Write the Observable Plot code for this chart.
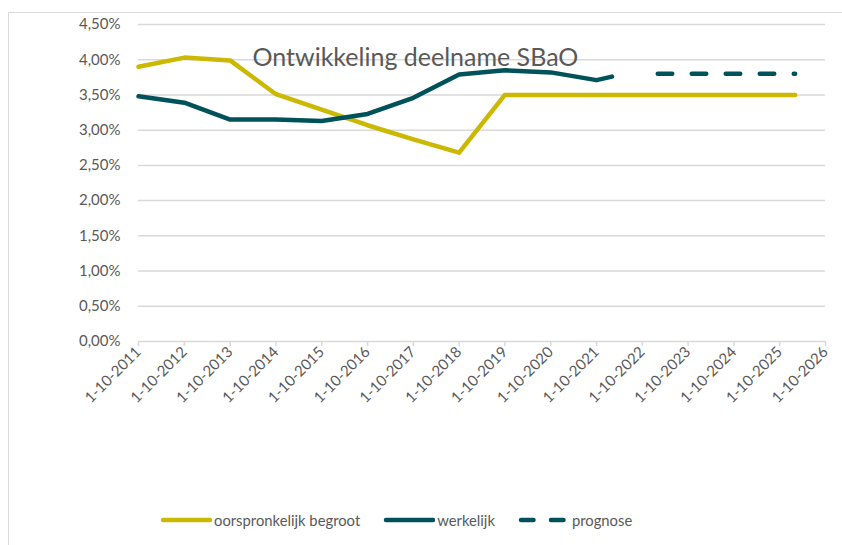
<!DOCTYPE html>
<html>
<head>
<meta charset="utf-8">
<script src="https://cdn.jsdelivr.net/npm/d3@7"></script>
<script src="https://cdn.jsdelivr.net/npm/@observablehq/plot@0.6"></script>
<style>
  html, body { margin: 0; padding: 0; background: #fff; }
  #wrap { position: relative; width: 842px; height: 545px; overflow: hidden; font-family: Lato, "Open Sans", sans-serif; }
  #frame { position: absolute; left: 8px; top: 12px; width: 840px; height: 540px;
           border-top: 1.5px solid #d9d9d9; border-left: 1.5px solid #d9d9d9; box-sizing: border-box; }
  #chart { position: absolute; left: 0; top: 0; }
  #legend { position: absolute; left: 160px; top: 511px; display: flex; align-items: center; gap: 23px;
            font-size: 14.8px; color: #595959; }
  .item { display: flex; align-items: center; }
  .item svg { display: block; margin-right: 2px; }
</style>
</head>
<body>
<div id="wrap">
  <div id="frame"></div>
  <div id="chart"></div>
  <div id="legend"></div>
</div>
<script>
// ---- data ----
const titleText = "Ontwikkeling deelname SBaO";

const begrootDates = ["2011-10-01","2012-10-01","2013-10-01","2014-10-01","2015-10-01","2016-10-01","2017-10-01","2018-10-01","2019-10-01","2020-10-01","2021-10-01","2022-10-01","2023-10-01","2024-10-01","2025-10-01","2026-02-01"];
const begrootValues = [0.0390,0.0403,0.0399,0.0351,0.0329,0.0307,0.0287,0.0268,0.0350,0.0350,0.0350,0.0350,0.0350,0.0350,0.0350,0.0350];

const werkelijkDates = ["2011-10-01","2012-10-01","2013-10-01","2014-10-01","2015-10-01","2016-10-01","2017-10-01","2018-10-01","2019-10-01","2020-10-01","2021-10-01","2022-02-01"];
const werkelijkValues = [0.0348,0.0339,0.0315,0.0315,0.0313,0.0323,0.0346,0.0379,0.0385,0.0382,0.0371,0.0376];

const prognoseDates = ["2023-02-01","2024-02-01","2025-02-01","2026-02-01"];
const prognoseValues = [0.0380,0.0380,0.0380,0.0380];

const seriesNames = ["oorspronkelijk begroot","werkelijk","prognose"];
const seriesColors = ["#CBB800","#00525A","#00525A"];

const yTicks = [0,0.005,0.01,0.015,0.02,0.025,0.03,0.035,0.04,0.045];
const xTickYears = [2011,2012,2013,2014,2015,2016,2017,2018,2019,2020,2021,2022,2023,2024,2025,2026];

// ---- build ----
const toRows = (dates, values) => dates.map((d, i) => ({date: new Date(d), value: values[i]}));
const begroot = toRows(begrootDates, begrootValues);
const werkelijk = toRows(werkelijkDates, werkelijkValues);
const prognose = toRows(prognoseDates, prognoseValues);
const xTicks = xTickYears.map(y => new Date(Date.UTC(y, 9, 1)));

const fmtPct = d => (d * 100).toFixed(2).replace(".", ",") + "%";
const fmtDate = d3.utcFormat("%-d-%-m-%Y");

const lineStyle = {x: "date", y: "value", strokeWidth: 4.5, strokeLinecap: "round", strokeLinejoin: "round"};

const chart = Plot.plot({
  width: 842,
  height: 430,
  marginLeft: 138,
  marginRight: 17,
  marginTop: 24,
  marginBottom: 89,
  style: {fontFamily: "Lato, 'Open Sans', sans-serif", background: "transparent"},
  x: {type: "utc", domain: [xTicks[0], xTicks[xTicks.length - 1]]},
  y: {domain: [0, 0.045]},
  marks: [
    Plot.ruleY(yTicks, {stroke: "#d9d9d9", strokeWidth: 1.5}),
    Plot.axisY({ticks: yTicks, tickSize: 0, tickPadding: 18, tickFormat: fmtPct, fill: "#595959", fontSize: 15, label: null}),
    Plot.axisX({ticks: xTicks, tickSize: 5, tickPadding: 3, stroke: "#d9d9d9", strokeWidth: 1.5, tickRotate: -45, tickFormat: fmtDate, fill: "#595959", fontSize: 15, label: null}),
    Plot.text([titleText], {frameAnchor: "top-left", textAnchor: "start", lineAnchor: "middle", dx: 114, dy: 33.5, fontSize: 25, fill: "#595959"}),
    Plot.line(begroot, {...lineStyle, stroke: seriesColors[0]}),
    Plot.line(werkelijk, {...lineStyle, stroke: seriesColors[1]}),
    Plot.line(prognose, {...lineStyle, stroke: seriesColors[2], strokeDasharray: "14.5,19.5"})
  ]
});
document.getElementById("chart").appendChild(chart);

// ---- legend ----
const legend = d3.select("#legend");
seriesNames.forEach((name, i) => {
  const item = legend.append("div").attr("class", "item");
  const svg = item.append("svg").attr("width", 52).attr("height", 10);
  svg.append("line").attr("x1", 3).attr("x2", 50).attr("y1", 5).attr("y2", 5)
    .attr("stroke", seriesColors[i]).attr("stroke-width", 4.5).attr("stroke-linecap", "round")
    .attr("stroke-dasharray", i === 2 ? "12.5,17.5" : null);
  item.append("span").text(name);
});
</script>
</body>
</html>
